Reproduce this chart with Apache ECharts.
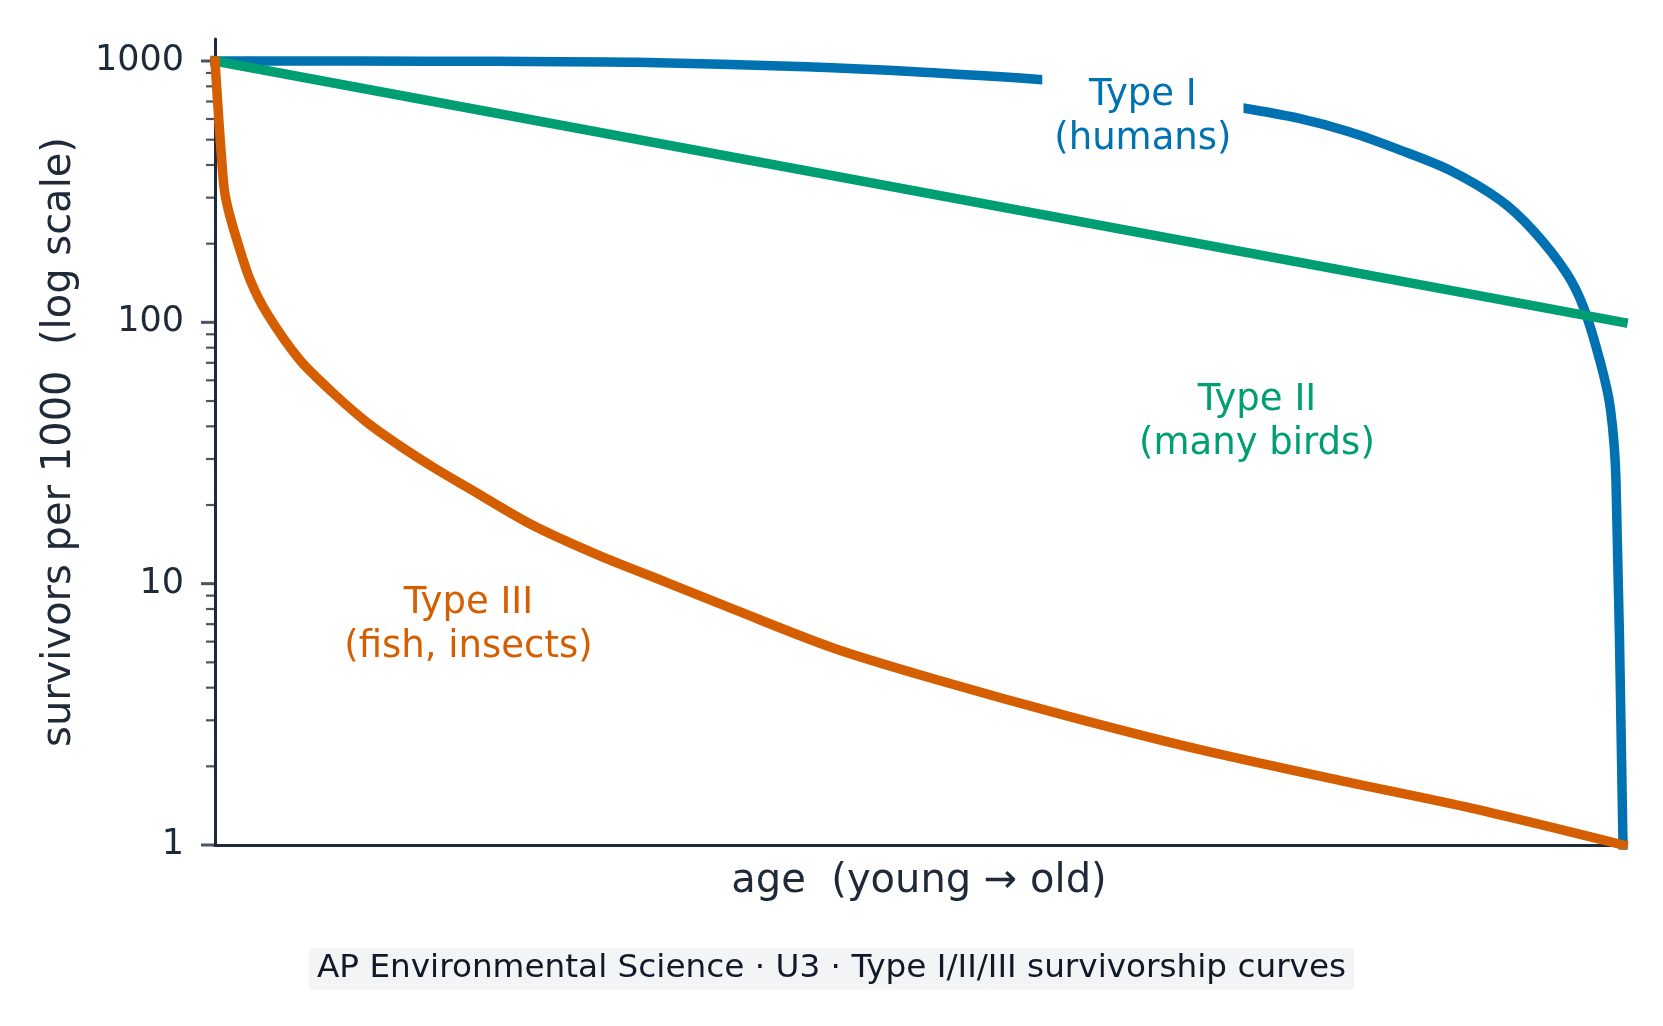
<!DOCTYPE html>
<html lang="en">
<head>
  <meta charset="UTF-8" />
  <title>Survivorship curves</title>
  <script src="https://cdn.jsdelivr.net/npm/echarts@6/dist/echarts.min.js"></script>
  <style>
    body {
      margin: 0;
      padding: 0;
      background: #ffffff;
    }
    #chart {
      width: 1663px;
      height: 1026px;
    }
  </style>
</head>
<body>
  <div id="chart"></div>

  <script>
    // values (age 0..100, survivors per 1000)
    const typeIAge = [0, 10, 20, 30, 42, 50, 60, 66, 73, 77, 80.6, 84, 87.7, 91.3, 93.6, 96, 97.2, 98.4, 99.1, 99.5, 100];
    const typeIVal = [1000, 999, 997, 989, 951, 908, 838, 755, 661, 603, 535, 460, 382, 293, 225, 154, 114, 70, 47, 25, 1];

    const typeIIAge = [0, 100];
    const typeIIVal = [1000, 100];

    const typeIIIAge = [0, 0.6, 0.9, 1.55, 2.5, 3.7, 6, 8.4, 10.8, 13.1, 15.5, 17.9, 22.5, 27.3, 32.1, 36.9, 44, 51.2, 60.7, 70.2, 79.8, 89.3, 100];
    const typeIIIVal = [1000, 345, 276, 207, 145, 108, 72, 53.6, 41.4, 33.8, 27.9, 23.4, 16.8, 12.8, 10.1, 7.95, 5.65, 4.3, 3.1, 2.3, 1.77, 1.38, 1];

    const yTickLabels = [1, 10, 100, 1000];
    const yMinorTicks = [2, 3, 4, 5, 6, 7, 8, 9, 20, 30, 40, 50, 60, 70, 80, 90, 200, 300, 400, 500, 600, 700, 800, 900];

    const curveNames = ['Type I', 'Type II', 'Type III'];
    const curveLabels = ['Type I\n(humans)', 'Type II\n(many birds)', 'Type III\n(fish, insects)'];
    const curveColors = ['#0072B2', '#009E73', '#D55E00'];

    const ink = '#1f2937';
    const font = 'DejaVu Sans';

    const pairs = (xs, ys) => xs.map((x, i) => [x, ys[i]]);

    function curve(idx, data, labelCoord, labelBg) {
      return {
        name: curveNames[idx],
        type: 'line',
        data: data,
        showSymbol: false,
        symbol: 'none',
        silent: true,
        smooth: 0.3,
        lineStyle: { color: curveColors[idx], width: 9.5, cap: 'square', join: 'round' },
        markPoint: {
          silent: true,
          symbol: 'rect',
          symbolSize: 1,
          itemStyle: { color: 'rgba(0,0,0,0)' },
          label: {
            show: true,
            position: 'inside',
            formatter: curveLabels[idx],
            color: curveColors[idx],
            fontFamily: font,
            fontSize: 37,
            lineHeight: 44,
            align: 'center',
            backgroundColor: labelBg,
            padding: [6, 12]
          },
          data: [{ coord: labelCoord }]
        }
      };
    }

    const chart = echarts.init(document.getElementById('chart'), null, { renderer: 'canvas' });

    chart.setOption({
      animation: false,
      backgroundColor: '#ffffff',
      title: {
        text: 'AP Environmental Science · U3 · Type I/II/III survivorship curves',
        left: 'center',
        top: 949,
        backgroundColor: '#f3f4f6',
        borderRadius: 3,
        padding: [4, 8],
        textStyle: {
          fontFamily: font,
          fontSize: 32.7,
          lineHeight: 32,
          fontWeight: 'normal',
          color: '#111827'
        }
      },
      grid: { left: 215, right: 40, top: 39, bottom: 181 },
      xAxis: {
        type: 'value',
        min: 0,
        max: 100,
        name: 'age  (young → old)',
        nameLocation: 'middle',
        nameGap: 17,
        nameTextStyle: { fontFamily: font, fontSize: 40, color: ink },
        axisLine: { show: true, lineStyle: { color: ink, width: 3 } },
        axisTick: { show: false },
        axisLabel: { show: false },
        splitLine: { show: false }
      },
      yAxis: {
        type: 'log',
        logBase: 10,
        min: 1,
        max: 1214,
        name: 'survivors per 1000  (log scale)',
        nameLocation: 'middle',
        nameGap: 135,
        nameTextStyle: { fontFamily: font, fontSize: 40, color: ink },
        axisLine: { show: true, lineStyle: { color: ink, width: 3 } },
        axisTick: { show: false },
        splitLine: { show: false },
        axisLabel: {
          margin: 31,
          fontFamily: font,
          fontSize: 35,
          color: ink,
          showMaxLabel: false,
          formatter: function (v) {
            const hit = yTickLabels.find(t => Math.abs(t - v) < t * 1e-6);
            return hit === undefined ? '' : String(hit);
          }
        }
      },
      series: [
        curve(0, pairs(typeIAge, typeIVal), [65.9, 611], '#ffffff'),
        curve(1, pairs(typeIIAge, typeIIVal), [74.0, 41.5], 'transparent'),
        curve(2, pairs(typeIIIAge, typeIIIVal), [18.0, 6.95], 'transparent'),
        {
          // major y ticks, drawn outside the axis
          type: 'scatter',
          silent: true,
          clip: false,
          symbol: 'rect',
          symbolSize: [14, 3],
          symbolOffset: [-7, 0],
          itemStyle: { color: ink },
          data: yTickLabels.map(v => [0, v])
        },
        {
          // minor y ticks
          type: 'scatter',
          silent: true,
          clip: false,
          symbol: 'rect',
          symbolSize: [9, 2.2],
          symbolOffset: [-4.5, 0],
          itemStyle: { color: ink },
          data: yMinorTicks.map(v => [0, v])
        }
      ]
    });
  </script>
</body>
</html>
